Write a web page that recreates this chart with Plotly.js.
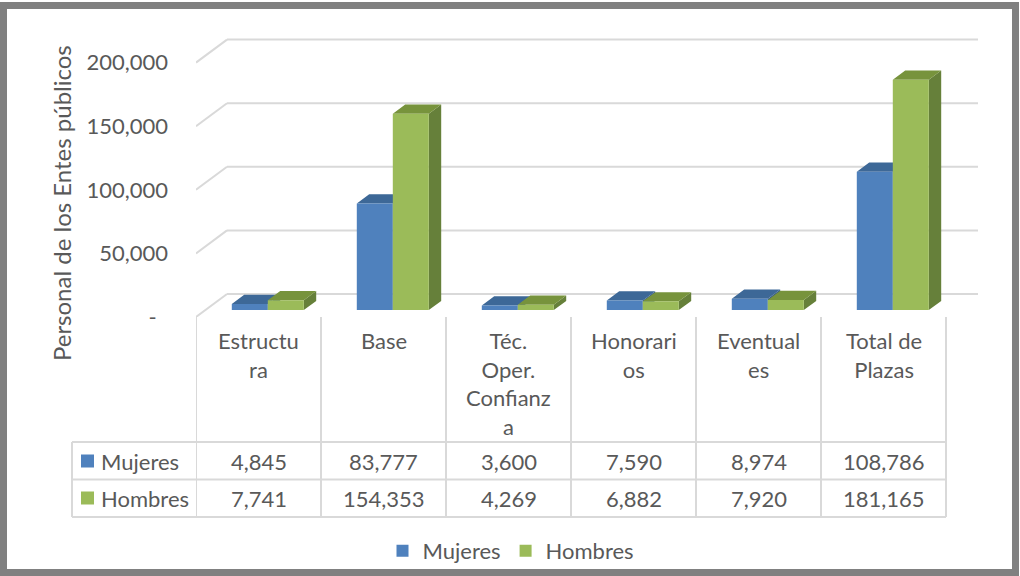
<!DOCTYPE html>
<html><head><meta charset="utf-8">
<script src="https://cdn.plot.ly/plotly-3.0.1.min.js"></script>
<style>html,body{margin:0;padding:0;background:#fff}</style>
</head><body><div id="chart" style="width:1020px;height:576px"></div>
<script>
// ---------- data ----------
const categories = ["Estructura", "Base", "Téc. Oper. Confianza", "Honorarios", "Eventuales", "Total de Plazas"];
const categoryLabels = ["Estructu<br>ra", "Base", "Téc.<br>Oper.<br>Confianz<br>a", "Honorari<br>os", "Eventual<br>es", "Total de<br>Plazas"];
const seriesNames = ["Mujeres", "Hombres"];
const mujeres = [4845, 83777, 3600, 7590, 8974, 108786];
const hombres = [7741, 154353, 4269, 6882, 7920, 181165];
const yTickVals = [0, 50000, 100000, 150000, 200000];
const yTickText = ["-\u00a0\u00a0", "50,000", "100,000", "150,000", "200,000"];
const yTitle = "Personal de los Entes públicos";

// ---------- style / geometry ----------
const FONT = "Lato, 'Open Sans', sans-serif";
const TXT = "#595959";
const GRID = "#d9d9d9";
const FS = 22;
const W = 1020, H = 576;
const L = 196, R = 978, T = 34, B = 317;     // plot area in px
const PX_X = 125, PX_Y = 0.001272;           // px per category, px per unit
const DEPTH_X = 31, DEPTH_Y = 23;            // oblique depth vector (px)
const dx = p => p / PX_X, dy = p => p / PX_Y;
const paperX = p => (p - L) / (R - L);
const paperY = p => (B - p) / (B - T);
const xRange = [-0.5, -0.5 + (R - L) / PX_X];
const yRange = [0, (B - T) / PX_Y];

const colors = {
  front: ["#4F81BD", "#9BBB59"],
  top:   ["#3D6897", "#77933C"],
  side:  ["#385D8A", "#66803A"]
};
const D0 = 0.3, D1 = 0.7;
const barW = 36 / PX_X;
const shiftX = dx(D0 * DEPTH_X), baseVal = dy(D0 * DEPTH_Y);
const tsx = dx((D1 - D0) * DEPTH_X), tsy = dy((D1 - D0) * DEPTH_Y);
const offsets = [-barW + shiftX, shiftX];
const xs = categories.map((c, i) => i);
const seriesVals = [mujeres, hombres];

const traces = [];
seriesVals.forEach((vals, s) => {
  const o = offsets[s];
  const topX = [], topY = [], sideX = [], sideY = [];
  vals.forEach((v, i) => {
    const xl = i + o, xr = xl + barW, yb = baseVal, yt = baseVal + v;
    topX.push(xl, xr, xr + tsx, xl + tsx, xl, null);
    topY.push(yt, yt, yt + tsy, yt + tsy, yt, null);
    sideX.push(xr, xr, xr + tsx, xr + tsx, xr, null);
    sideY.push(yb, yt, yt + tsy, yb + tsy, yb, null);
  });
  traces.push({type: "scatter", x: sideX, y: sideY, fill: "toself", mode: "lines",
    line: {width: 0}, fillcolor: colors.side[s], showlegend: false, hoverinfo: "skip", zorder: 2 * s});
  traces.push({type: "scatter", x: topX, y: topY, fill: "toself", mode: "lines",
    line: {width: 0}, fillcolor: colors.top[s], showlegend: false, hoverinfo: "skip", zorder: 2 * s});
  traces.push({type: "bar", name: seriesNames[s], x: xs, y: vals, base: baseVal,
    offset: o, width: barW, marker: {color: colors.front[s], line: {width: 0}},
    zorder: 2 * s + 1});
});

// ---------- walls / gridlines ----------
const shapes = [];
yTickVals.forEach(v => {
  shapes.push({type: "line", xref: "x", yref: "y", layer: "below",
    x0: -0.5 + dx(DEPTH_X), x1: xRange[1], y0: v + dy(DEPTH_Y), y1: v + dy(DEPTH_Y),
    line: {color: GRID, width: 2}});
  shapes.push({type: "line", xref: "x", yref: "y", layer: "below",
    x0: -0.5, x1: -0.5 + dx(DEPTH_X), y0: v, y1: v + dy(DEPTH_Y),
    line: {color: GRID, width: 2}});
});

// ---------- data table ----------
const rowY = [461, 498];
const rowLines = [442, 479.5, 517];
const annotations = [];
categories.forEach((c, i) => {
  shapes.push({type: "line", xref: "x", yref: "paper", x0: i - 0.5, x1: i - 0.5,
    y0: paperY(317), y1: paperY(517), line: {color: GRID, width: 2}});
  annotations.push({xref: "x", yref: "paper", x: i, y: paperY(325), yanchor: "top",
    xanchor: "center", text: categoryLabels[i], showarrow: false, align: "center",
    font: {family: FONT, size: FS, color: TXT}});
  seriesVals.forEach((vals, s) => {
    annotations.push({xref: "x", yref: "paper", x: i, y: paperY(rowY[s]), yanchor: "middle",
      xanchor: "center", text: vals[i].toLocaleString("en-US"), showarrow: false,
      font: {family: FONT, size: FS, color: TXT}});
  });
});
shapes.push({type: "line", xref: "x", yref: "paper", x0: categories.length - 0.5, x1: categories.length - 0.5,
  y0: paperY(317), y1: paperY(517), line: {color: GRID, width: 2}});
rowLines.forEach(p => shapes.push({type: "line", xref: "paper", yref: "paper",
  x0: paperX(72), x1: paperX(946), y0: paperY(p), y1: paperY(p), line: {color: GRID, width: 2}}));
shapes.push({type: "line", xref: "paper", yref: "paper", x0: paperX(72), x1: paperX(72),
  y0: paperY(442), y1: paperY(517), line: {color: GRID, width: 2}});
seriesNames.forEach((n, s) => {
  shapes.push({type: "rect", xref: "paper", yref: "paper", x0: paperX(81), x1: paperX(94),
    y0: paperY(rowY[s] - 6.5), y1: paperY(rowY[s] + 6.5), line: {width: 0}, fillcolor: colors.front[s]});
  annotations.push({xref: "paper", yref: "paper", x: paperX(99), y: paperY(rowY[s]),
    xanchor: "left", yanchor: "middle", text: n, showarrow: false,
    font: {family: FONT, size: FS, color: TXT}});
});

// y-axis title
annotations.push({xref: "paper", yref: "paper", x: paperX(61), y: paperY(203),
  xanchor: "center", yanchor: "middle", textangle: -90, text: yTitle, showarrow: false,
  font: {family: FONT, size: 24, color: TXT}});

// frame
shapes.push({type: "rect", xref: "paper", yref: "paper", x0: paperX(3.5), x1: paperX(1015.5),
  y0: paperY(5.5), y1: paperY(572.5), line: {color: "#808080", width: 7}, fillcolor: "rgba(0,0,0,0)"});

const layout = {
  width: W, height: H,
  margin: {l: L, r: W - R, t: T, b: H - B, pad: 0, autoexpand: false},
  paper_bgcolor: "#ffffff", plot_bgcolor: "rgba(0,0,0,0)",
  barmode: "overlay",
  font: {family: FONT, color: TXT},
  xaxis: {range: xRange, showgrid: false, zeroline: false, showline: false,
    showticklabels: false, ticks: "", fixedrange: true},
  yaxis: {range: yRange, showgrid: false, zeroline: false, showline: false,
    tickvals: yTickVals, ticktext: yTickText, ticks: "", ticklabelstandoff: 27,
    tickfont: {family: FONT, size: FS, color: TXT}, fixedrange: true},
  showlegend: true,
  legend: {orientation: "h", x: paperX(511), xanchor: "center", y: paperY(551), yanchor: "middle",
    font: {family: FONT, size: FS, color: TXT}, bgcolor: "rgba(0,0,0,0)", traceorder: "normal"},
  shapes: shapes,
  annotations: annotations
};
Plotly.newPlot("chart", traces, layout, {displayModeBar: false, staticPlot: true});
</script></body></html>
